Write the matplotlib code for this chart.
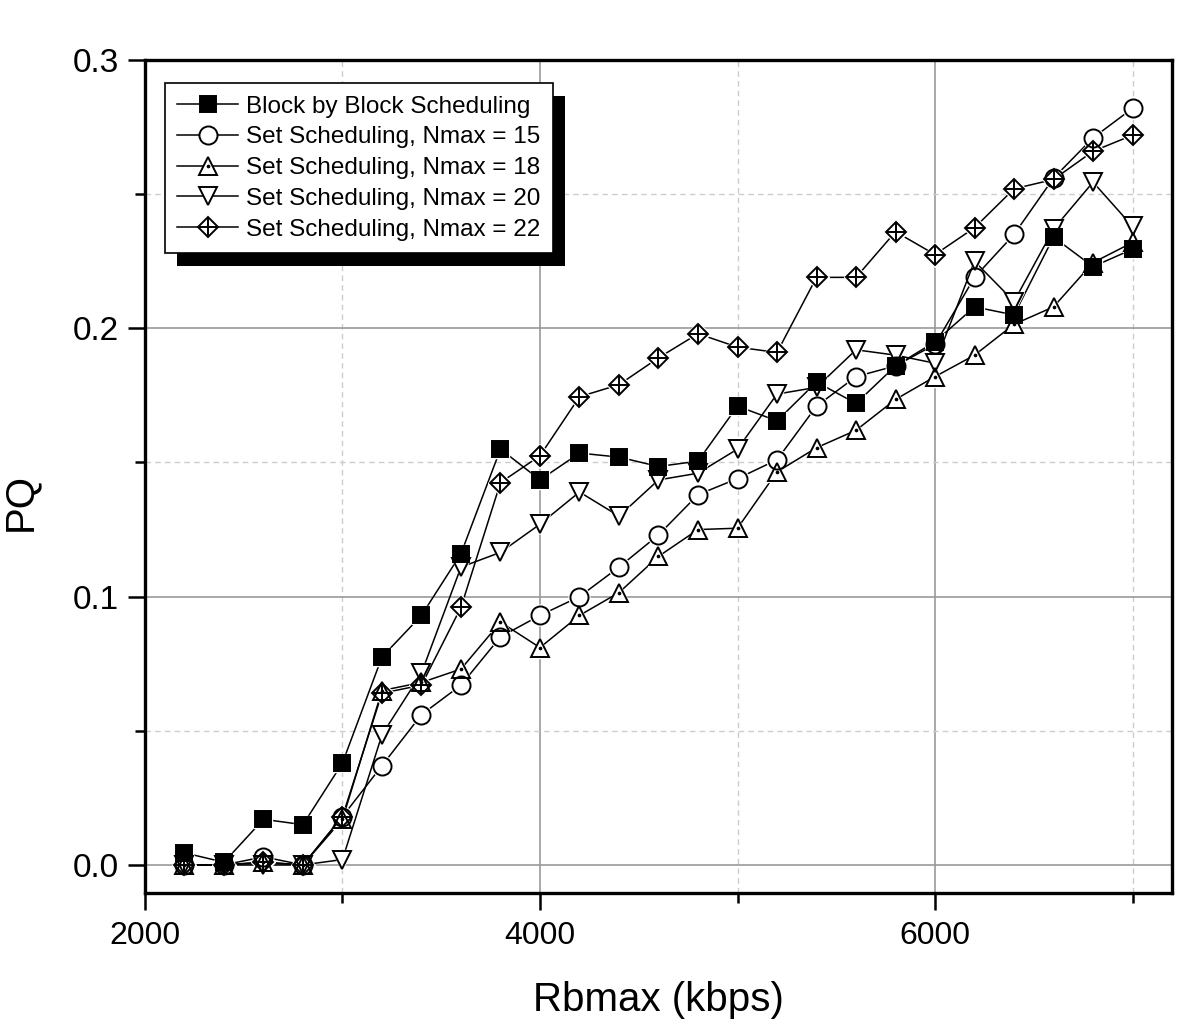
import matplotlib
matplotlib.use('Agg')
import matplotlib.pyplot as plt
from matplotlib.patches import Rectangle
from matplotlib.ticker import MultipleLocator

plt.rcParams['font.family'] = ['Liberation Sans', 'DejaVu Sans']

rbmax = [2200, 2400, 2600, 2800, 3000, 3200, 3400, 3600, 3800, 4000, 4200, 4400, 4600,
         4800, 5000, 5200, 5400, 5600, 5800, 6000, 6200, 6400, 6600, 6800, 7000]

block = [0.0045, 0.001, 0.017, 0.015, 0.038, 0.0775, 0.093, 0.116, 0.155, 0.1435, 0.1535,
         0.152, 0.1485, 0.1505, 0.171, 0.1655, 0.180, 0.172, 0.186, 0.195, 0.208, 0.205,
         0.234, 0.223, 0.2295]
nmax15 = [0.0, 0.0, 0.003, 0.0, 0.018, 0.037, 0.056, 0.067, 0.085, 0.093, 0.100, 0.111,
          0.123, 0.138, 0.144, 0.151, 0.171, 0.182, 0.186, 0.194, 0.219, 0.235, 0.256,
          0.271, 0.282]
nmax18 = [0.0, 0.0, 0.001, 0.0, 0.017, 0.065, 0.068, 0.073, 0.0905, 0.081, 0.093, 0.1015,
          0.115, 0.125, 0.1255, 0.1465, 0.1555, 0.162, 0.1735, 0.182, 0.190, 0.2015,
          0.208, 0.2245, 0.232]
nmax20 = [0.0, 0.0, 0.0, 0.0, 0.002, 0.0485, 0.0715, 0.111, 0.1165, 0.127, 0.139, 0.130,
          0.1435, 0.146, 0.155, 0.1755, 0.178, 0.192, 0.190, 0.187, 0.225, 0.210, 0.237,
          0.2545, 0.238]
nmax22 = [0.0, 0.0, 0.001, 0.0, 0.018, 0.064, 0.067, 0.096, 0.1425, 0.1525, 0.1745, 0.179,
          0.189, 0.198, 0.193, 0.191, 0.219, 0.219, 0.236, 0.2275, 0.2375, 0.252, 0.2555,
          0.266, 0.272]

labels = ["Block by Block Scheduling",
          "Set Scheduling, Nmax = 15",
          "Set Scheduling, Nmax = 18",
          "Set Scheduling, Nmax = 20",
          "Set Scheduling, Nmax = 22"]


def main():
    fig = plt.figure(figsize=(12, 10.23), dpi=100)
    ax = fig.add_axes([0.1208, 0.127, 0.8559, 0.8143])

    # (marker, size, facecolor, inner marker, inner size)
    styles = [('s', 11.5, 'black', None, 0),
              ('o', 13, 'none', None, 0),
              ('^', 13, 'none', '.', 2.5),
              ('v', 13, 'none', None, 0),
              ('D', 10, 'none', '+', 14.5)]
    series = [block, nmax15, nmax18, nmax20, nmax22]

    handles = []
    for ys, (mk, ms, fc, inner, ims) in zip(series, styles):
        # line with white marker blobs to cut the line under each symbol
        ax.plot(rbmax, ys, color='black', lw=1.1, marker=mk, ms=ms + 2,
                mfc='white', mec='white', mew=1.0, zorder=2)
        ax.plot(rbmax, ys, ls='none', marker=mk, ms=ms, mfc=fc,
                mec='black', mew=1.4, zorder=3)
        if inner:
            ax.plot(rbmax, ys, ls='none', marker=inner, ms=ims,
                    mec='black', mfc='black', mew=1.4, zorder=4)
        # legend proxy: line + symbol
        lh = plt.Line2D([], [], color='black', lw=1.1, marker=mk, ms=ms,
                        mfc=fc if fc != 'none' else 'white', mec='black', mew=1.4)
        lparts = [lh]
        if inner:
            lparts.append(plt.Line2D([], [], ls='none', marker=inner, ms=ims,
                                     mec='black', mfc='black', mew=1.4))
        handles.append(tuple(lparts))

    ax.set_xlim(2000, 7200)
    ax.set_ylim(-0.0105, 0.3)
    ax.xaxis.set_major_locator(MultipleLocator(2000))
    ax.xaxis.set_minor_locator(MultipleLocator(1000))
    ax.yaxis.set_major_locator(MultipleLocator(0.1))
    ax.yaxis.set_minor_locator(MultipleLocator(0.05))
    ax.set_yticks([0.0, 0.1, 0.2, 0.3])
    ax.set_yticklabels(['0.0', '0.1', '0.2', '0.3'])

    ax.grid(which='major', color='#999999', lw=1.2, ls='-', zorder=0)
    ax.grid(which='minor', color='#cccccc', lw=1.0, ls=(0, (4, 3)), zorder=0)
    ax.set_axisbelow(True)

    for sp in ax.spines.values():
        sp.set_linewidth(2.4)
    ax.tick_params(which='major', direction='out', length=12, width=1.8,
                   labelsize=23, pad=8)
    ax.tick_params(axis='y', which='major', labelsize=24, pad=7)
    ax.tick_params(which='minor', direction='out', length=7, width=1.8)
    ax.tick_params(top=False, right=False, which='both')

    ax.set_xlabel('Rbmax (kbps)', fontsize=29, labelpad=22)
    ax.set_ylabel('PQ', fontsize=29)
    ax.yaxis.set_label_coords(-0.103, 0.47)

    leg = ax.legend(handles, labels, loc='upper left', bbox_to_anchor=(0.0195, 0.972),
                    borderaxespad=0, fontsize=17.5, frameon=True, fancybox=False,
                    framealpha=1, handlelength=2.5, handletextpad=0.35,
                    labelspacing=0.36, borderpad=0.5)
    leg.get_frame().set_edgecolor('black')
    leg.get_frame().set_linewidth(1.2)
    leg.set_zorder(10)

    # drop shadow in the Origin style
    fig.canvas.draw()
    bb = leg.get_window_extent()
    inv = fig.transFigure.inverted()
    (x0, y0), (x1, y1) = inv.transform([(bb.x0 + 12, bb.y0 - 13), (bb.x1 + 12, bb.y1 - 13)])
    shadow = Rectangle((x0, y0), x1 - x0, y1 - y0, transform=fig.transFigure,
                       facecolor='black', edgecolor='none', zorder=9)
    ax.add_artist(shadow)
    shadow.set_clip_on(False)

    fig.savefig('out.png', dpi=100)
    plt.close(fig)


if __name__ == '__main__':
    main()
